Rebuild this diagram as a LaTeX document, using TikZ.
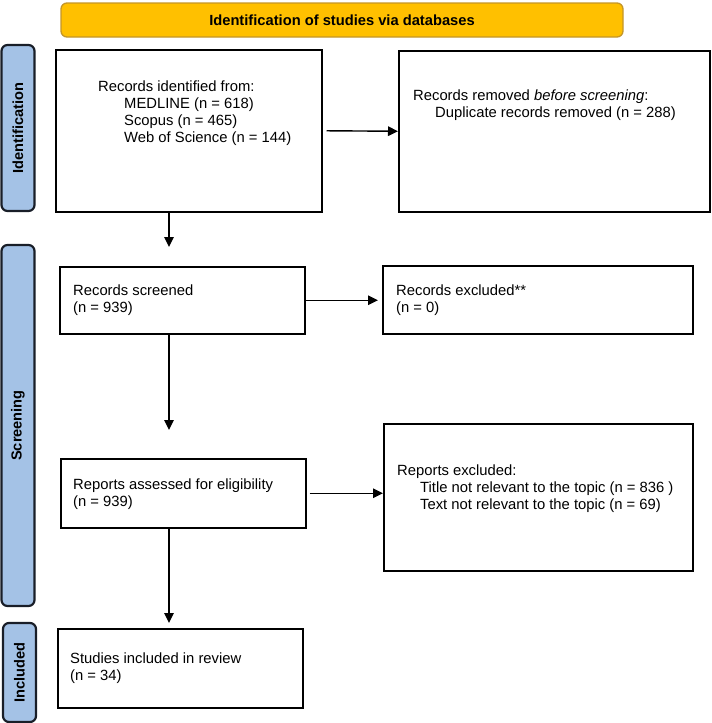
\documentclass[tikz,border=0pt]{standalone}
\usepackage{fontspec}
\setmainfont{Liberation Sans}
\usetikzlibrary{arrows.meta,positioning,calc}
\definecolor{headfill}{RGB}{255,192,0}
\definecolor{headdraw}{RGB}{196,150,40}
\definecolor{sidefill}{RGB}{164,194,230}
\definecolor{sidedraw}{RGB}{25,30,40}
\tikzset{
  invisible/.style={inner sep=0pt},
  header/.style={rectangle, rounded corners=6pt, line width=1.3pt, draw=headdraw,
    fill=headfill, font=\bfseries\fontsize{14.7}{17}\selectfont},
  phase/.style={rectangle, rounded corners=6pt, line width=2.2pt, draw=sidedraw,
    fill=sidefill, rotate=90, minimum height=33pt, inner sep=0pt,
    font=\bfseries\fontsize{14.6}{17}\selectfont},
  stage/.style={rectangle, line width=1.5pt, draw=black, anchor=north west, inner sep=0pt},
  boxtext/.style={anchor=west, inner sep=0pt, align=left, font=\fontsize{14.8}{17}\selectfont}
}

\begin{document}
\begin{tikzpicture}[x=1pt, y=1pt]

\tikzset{
toarr/.style={-{Triangle[length=10pt, width=9.5pt]}, line width=1.4pt}
}

\useasboundingbox (0,0) rectangle (712,-723);

\node[header, minimum width=562pt, minimum height=34pt](head) at (342,-20)
{Identification of studies via databases};

%PHASES
\node[phase, minimum width=166pt](ident) at (18,-128) {Identification};
\node[phase, minimum width=361pt](screen) at (18,-425.5) {Screening};
\node[phase, minimum width=99pt](incl) at (19.5,-672.5) {Included};

%IDENTIFICATION
\node[stage, minimum width=266pt, minimum height=162pt](box1) at (55,-49) {};
\node[boxtext](txt1) at (98,-113.5) {Records identified from:\\
\hspace*{26pt}MEDLINE (n = 618)\\
\hspace*{26pt}Scopus (n = 465)\\
\hspace*{26pt}Web of Science (n = 144)};

\node[stage, minimum width=311pt, minimum height=161pt](box2) at (398,-50) {};
\node[boxtext](txt2) at (413,-105.5) {Records removed \textit{before screening}:\\
\hspace*{22pt}Duplicate records removed (n = 288)};

\draw[toarr, shorten <=4pt] (box1.east) -- (box2.west);

%SCREENING
\coordinate (spine) at (169,0);

\node[stage, minimum width=245pt, minimum height=67pt](box3) at (59,-266) {};
\node[boxtext](txt3) at (73,-300.5) {Records screened\\(n = 939)};

\node[stage, minimum width=310pt, minimum height=68pt](box4) at (382,-265) {};
\node[boxtext](txt4) at (396,-300.5) {Records excluded**\\(n = 0)};

\draw[toarr] (box1.south -| spine) -- (box3.north -| spine)
[shorten >=19pt];
\draw[toarr, shorten >=4pt] (box3.east) -- (box3.east -| box4.west);

\node[stage, minimum width=245pt, minimum height=69pt](box5) at (60,-458) {};
\node[boxtext](txt5) at (73,-494) {Reports assessed for eligibility\\(n = 939)};

\node[stage, minimum width=309pt, minimum height=147pt](box6) at (383,-423) {};
\node[boxtext](txt6) at (397,-489) {Reports excluded:\\
\hspace*{23pt}Title not relevant to the topic (n = 836 )\\
\hspace*{23pt}Text not relevant to the topic (n = 69)};

\draw[toarr, shorten >=28pt] (box3.south -| spine) -- (box5.north -| spine);
\draw[toarr, shorten <=3pt] (box5.east) -- (box5.east -| box6.west);

%INCLUDED
\node[stage, minimum width=245pt, minimum height=79pt](box7) at (57,-628) {};
\node[boxtext](txt7) at (70,-668) {Studies included in review\\(n = 34)};

\draw[toarr, shorten >=5pt] (box5.south -| spine) -- (box7.north -| spine);
\end{tikzpicture}
\end{document}
